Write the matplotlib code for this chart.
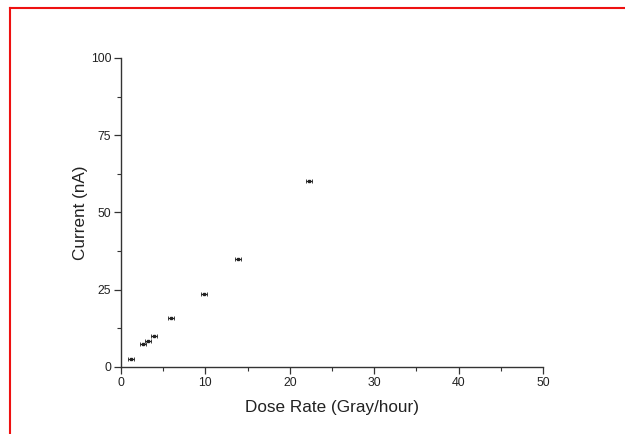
import matplotlib
matplotlib.use("Agg")
import matplotlib.pyplot as plt
from matplotlib.lines import Line2D
from matplotlib.ticker import MultipleLocator

dose_rate = [1.2, 2.6, 3.2, 3.9, 5.9, 9.8, 13.9, 22.3]
current = [2.6, 7.3, 8.3, 10.0, 16.0, 23.6, 35.0, 60.2]
dose_err = [0.35, 0.35, 0.35, 0.35, 0.35, 0.35, 0.35, 0.35]

plt.rcParams['font.family'] = ['Liberation Sans', 'DejaVu Sans']

fig = plt.figure(figsize=(6.25, 4.34), dpi=100)
ax = fig.add_axes([0.1936, 0.1544, 0.6752, 0.712])

ax.errorbar(dose_rate, current, xerr=dose_err, fmt='s', ms=1.8, color='#222222',
            ecolor='#222222', elinewidth=0.8, capsize=1.2, capthick=0.6)

ax.set_xlim(0, 50)
ax.set_ylim(0, 100)
ax.xaxis.set_major_locator(MultipleLocator(10))
ax.xaxis.set_minor_locator(MultipleLocator(5))
ax.yaxis.set_major_locator(MultipleLocator(25))
ax.yaxis.set_minor_locator(MultipleLocator(12.5))

for s in ['top', 'right']:
    ax.spines[s].set_visible(False)
for s in ['left', 'bottom']:
    ax.spines[s].set_linewidth(1.0)
    ax.spines[s].set_color('#333333')

ax.tick_params(which='major', direction='out', length=5, width=0.9, labelsize=8.8,
               colors='#333333', labelcolor='#222222', pad=2)
ax.tick_params(which='minor', direction='out', length=3, width=0.8, colors='#333333')

ax.set_xlabel('Dose Rate (Gray/hour)', fontsize=12.3, color='#222222', labelpad=8)
ax.set_ylabel('Current (nA)', fontsize=12.3, color='#222222', labelpad=2)

# red frame on top and left edges
fig.add_artist(Line2D([0.016, 1.0], [0.982, 0.982], transform=fig.transFigure,
                      color='#ee1111', lw=1.5))
fig.add_artist(Line2D([0.016, 0.016], [0.0, 0.982], transform=fig.transFigure,
                      color='#ee1111', lw=1.5))

fig.savefig('out.png', dpi=100)
